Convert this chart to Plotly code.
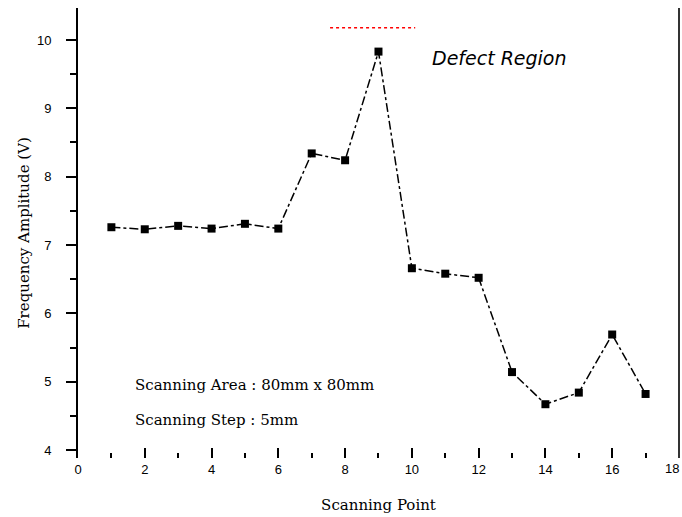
import plotly.graph_objects as go

scan_points = list(range(1, 18))
amplitude = [7.26, 7.23, 7.28, 7.24, 7.31, 7.24, 8.34, 8.24, 9.83,
             6.66, 6.58, 6.52, 5.14, 4.67, 4.84, 5.69, 4.82]

defect_x = [7.55, 10.1]
defect_y = [10.18, 10.18]

x_ticks = [0, 2, 4, 6, 8, 10, 12, 14, 16, 18]
x_ticktext = ["0", "2", "4", "6", "8", "10", "12", "14", "16", ""]
x_last_label = "18"
y_ticks = [4, 5, 6, 7, 8, 9, 10]

fig = go.Figure()
fig.add_trace(go.Scatter(
    x=scan_points, y=amplitude, mode="lines+markers",
    line=dict(color="black", width=1.5, dash="dashdot"),
    marker=dict(symbol="square", size=8, color="black"),
    showlegend=False))
fig.add_trace(go.Scatter(
    x=defect_x, y=defect_y, mode="lines",
    line=dict(color="red", width=1.5, dash="dot"),
    showlegend=False))

fig.add_annotation(x=10.54, y=9.74, text="<i>Defect Region</i>", showarrow=False,
                   xanchor="left", yanchor="middle",
                   font=dict(family="DejaVu Sans", size=19, color="black"))
fig.add_annotation(x=1.65, y=4.95, text="Scanning Area : 80mm x 80mm", showarrow=False,
                   xanchor="left", yanchor="middle",
                   font=dict(family="DejaVu Serif", size=15, color="black"))
fig.add_annotation(x=1.65, y=4.44, text="Scanning Step : 5mm", showarrow=False,
                   xanchor="left", yanchor="middle",
                   font=dict(family="DejaVu Serif", size=15, color="black"))
fig.add_annotation(x=x_ticks[-1], xref="x", y=0, yref="paper", text=x_last_label,
                   showarrow=False, xanchor="right", yanchor="top", xshift=2, yshift=-1,
                   font=dict(family="Liberation Sans", size=13, color="black"))

fig.update_layout(
    width=682, height=517,
    margin=dict(l=78, r=3, t=8, b=59, autoexpand=False),
    paper_bgcolor="white", plot_bgcolor="white",
    font=dict(family="DejaVu Serif", color="black"),
    xaxis=dict(range=[0, 18.001], tickvals=x_ticks, ticktext=x_ticktext,
               ticks="inside", ticklen=10,
               tickwidth=1.5, tickcolor="black", showgrid=False, zeroline=False,
               showline=False, ticklabelstandoff=2, automargin=False,
               minor=dict(tickvals=[1, 3, 5, 7, 9, 11, 13, 15, 17], ticks="inside",
                          ticklen=5, tickwidth=1.5, tickcolor="black"),
               tickfont=dict(family="Liberation Sans", size=13),
               title=dict(text="Scanning Point", font=dict(size=15), standoff=23)),
    yaxis=dict(range=[3.883, 10.468], tickvals=y_ticks, ticks="outside", ticklen=10,
               tickwidth=1.5, tickcolor="black", showgrid=False, zeroline=False,
               showline=True, linecolor="black", linewidth=2, ticklabelstandoff=12,
               automargin=False,
               minor=dict(tickvals=[4.5, 5.5, 6.5, 7.5, 8.5, 9.5, 10.5], ticks="outside",
                          ticklen=6, tickwidth=1.5, tickcolor="black"),
               tickfont=dict(family="Liberation Sans", size=13),
               title=dict(text="Frequency Amplitude (V)", font=dict(size=15), standoff=4)),
)
fig.add_shape(type="line", xref="paper", yref="paper", x0=1, x1=1, y0=0, y1=1,
              line=dict(color="#333", width=2))

fig.write_html("out.html", config={"displayModeBar": False},
               post_script="document.body.style.margin='0';document.body.style.overflow='hidden';")
